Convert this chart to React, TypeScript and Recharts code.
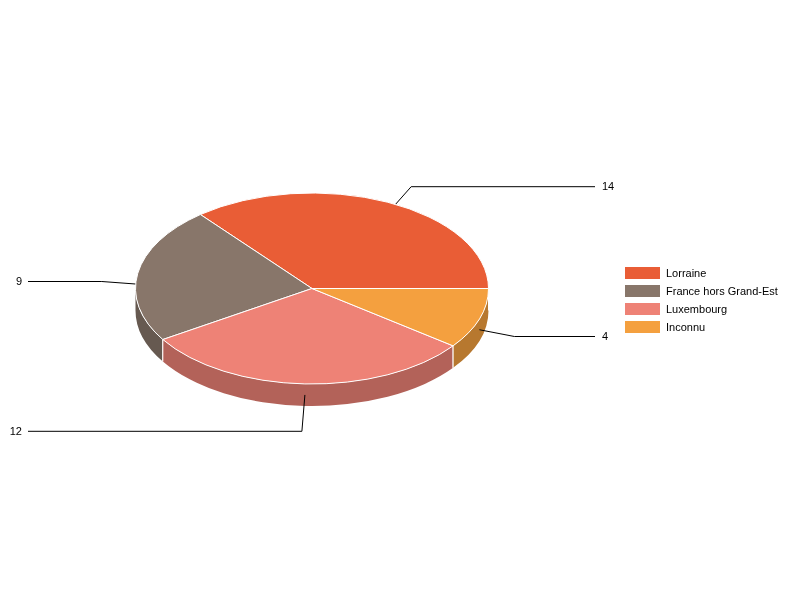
import React from 'react';
import { PieChart, Pie, Legend } from 'recharts';

const categories = ['Lorraine', 'France hors Grand-Est', 'Luxembourg', 'Inconnu'];
const counts = [14, 9, 12, 4];
const topColors = ['#E95D36', '#88766A', '#EE8276', '#F4A03F'];
const wallColors = ['#AF4628', '#665950', '#B36259', '#B7782F'];

const CX = 312;
const CY = 288.5;
const RX = 176.5;
const SQUASH = 95.5 / 176.5;
const DEPTH = 22;

// leader elbow relative to the anchor on the rim, per slice
const elbows = [
    { dx: 23.5, y: 186.7 },
    { dx: -36, y: 281.5 },
    { dx: -3, y: 431.3 },
    { dx: 35, y: 336.5 },
];

const topRows = categories.map((name, i) => ({ name, value: counts[i], fill: topColors[i] }));
const wallRows = categories.map((name, i) => ({ name, value: counts[i], fill: wallColors[i] }));

const rim = (cx: number, cy: number, r: number, deg: number) => {
    const a = (deg * Math.PI) / 180;
    return { x: cx + r * Math.cos(a), y: cy - r * SQUASH * Math.sin(a) };
};

const isRight = (deg: number) => Math.cos((deg * Math.PI) / 180) > 0;

const TopSlice = (props: any) => {
    const { cx, cy, outerRadius: r, startAngle, endAngle, fill } = props;
    const a = rim(cx, cy, r, startAngle);
    const b = rim(cx, cy, r, endAngle);
    const large = endAngle - startAngle > 180 ? 1 : 0;
    const d = `M${cx},${cy} L${a.x},${a.y} A${r},${r * SQUASH} 0 ${large} 0 ${b.x},${b.y} Z`;
    return <path d={d} fill={fill} stroke="#fff" strokeWidth={1} strokeLinejoin="round" />;
};

// side of the slice plus its leader line, both sit under the top faces
const WallSlice = (props: any) => {
    const { cx, cy, outerRadius: r, startAngle, endAngle, midAngle, fill, name } = props;
    const from = Math.max(startAngle, 180);
    const to = Math.min(endAngle, 360);
    const p = rim(cx, cy, r, midAngle);
    const anchorY = p.y + DEPTH / 2;
    const elbow = elbows[categories.indexOf(name)];
    const endX = isRight(midAngle) ? 595 : 28;
    const leader = (
        <polyline
            points={`${p.x},${anchorY} ${p.x + elbow.dx},${elbow.y} ${endX},${elbow.y}`}
            fill="none"
            stroke="#000"
            strokeWidth={1}
        />
    );
    if (to <= from) return <g>{leader}</g>;
    const a = rim(cx, cy, r, from);
    const b = rim(cx, cy, r, to);
    const ry = r * SQUASH;
    const d = `M${a.x},${a.y} A${r},${ry} 0 0 0 ${b.x},${b.y} L${b.x},${b.y + DEPTH} A${r},${ry} 0 0 1 ${a.x},${a.y + DEPTH} Z`;
    return (
        <g>
            <path d={d} fill={fill} />
            {startAngle >= 180 && <line x1={a.x} y1={a.y} x2={a.x} y2={a.y + DEPTH} stroke="#fff" />}
            {endAngle < 360 && <line x1={b.x} y1={b.y} x2={b.x} y2={b.y + DEPTH} stroke="#fff" />}
            {leader}
        </g>
    );
};

const renderValue = (props: any) => {
    const { midAngle, index, value } = props;
    const right = isRight(midAngle);
    return (
        <text
            key={index}
            x={right ? 602 : 22}
            y={Math.floor(elbows[index].y) + 4}
            textAnchor={right ? 'start' : 'end'}
            fontSize={11}
            fontFamily="'Liberation Sans', Arial, sans-serif"
            fill="#000"
        >
            {value}
        </text>
    );
};

const renderLegend = (props: any) => (
    <div style={{ fontFamily: "'Liberation Sans', Arial, sans-serif", fontSize: 11, color: '#000' }}>
        {props.payload
            .filter((entry: any) => entry.type !== 'none')
            .map((entry: any) => (
                <div key={entry.value} style={{ display: 'flex', alignItems: 'center', height: 18 }}>
                    <span style={{ width: 35, height: 12, background: entry.color, marginRight: 6 }} />
                    <span style={{ whiteSpace: 'nowrap' }}>{entry.value}</span>
                </div>
            ))}
    </div>
);

export default function App() {
    return (
        <div style={{ position: 'absolute', left: 0, top: 0, width: 800, height: 600, willChange: 'transform' }}>
            <PieChart width={800} height={600} margin={{ top: 0, right: 0, bottom: 0, left: 0 }}>
                <Pie
                    data={wallRows}
                    dataKey="value"
                    nameKey="name"
                    cx={CX}
                    cy={CY}
                    outerRadius={RX}
                    startAngle={0}
                    endAngle={360}
                    stroke="none"
                    shape={WallSlice}
                    label={renderValue}
                    labelLine={false}
                    legendType="none"
                    rootTabIndex={-1}
                    isAnimationActive={false}
                />
                <Pie
                    data={topRows}
                    dataKey="value"
                    nameKey="name"
                    cx={CX}
                    cy={CY}
                    outerRadius={RX}
                    startAngle={0}
                    endAngle={360}
                    shape={TopSlice}
                    label={false}
                    labelLine={false}
                    rootTabIndex={-1}
                    isAnimationActive={false}
                />
                <Legend
                    content={renderLegend}
                    layout="vertical"
                    itemSorter={null}
                    wrapperStyle={{ position: 'absolute', left: 625, top: 264, width: 170, bottom: 'auto', right: 'auto' }}
                />
            </PieChart>
        </div>
    );
}
